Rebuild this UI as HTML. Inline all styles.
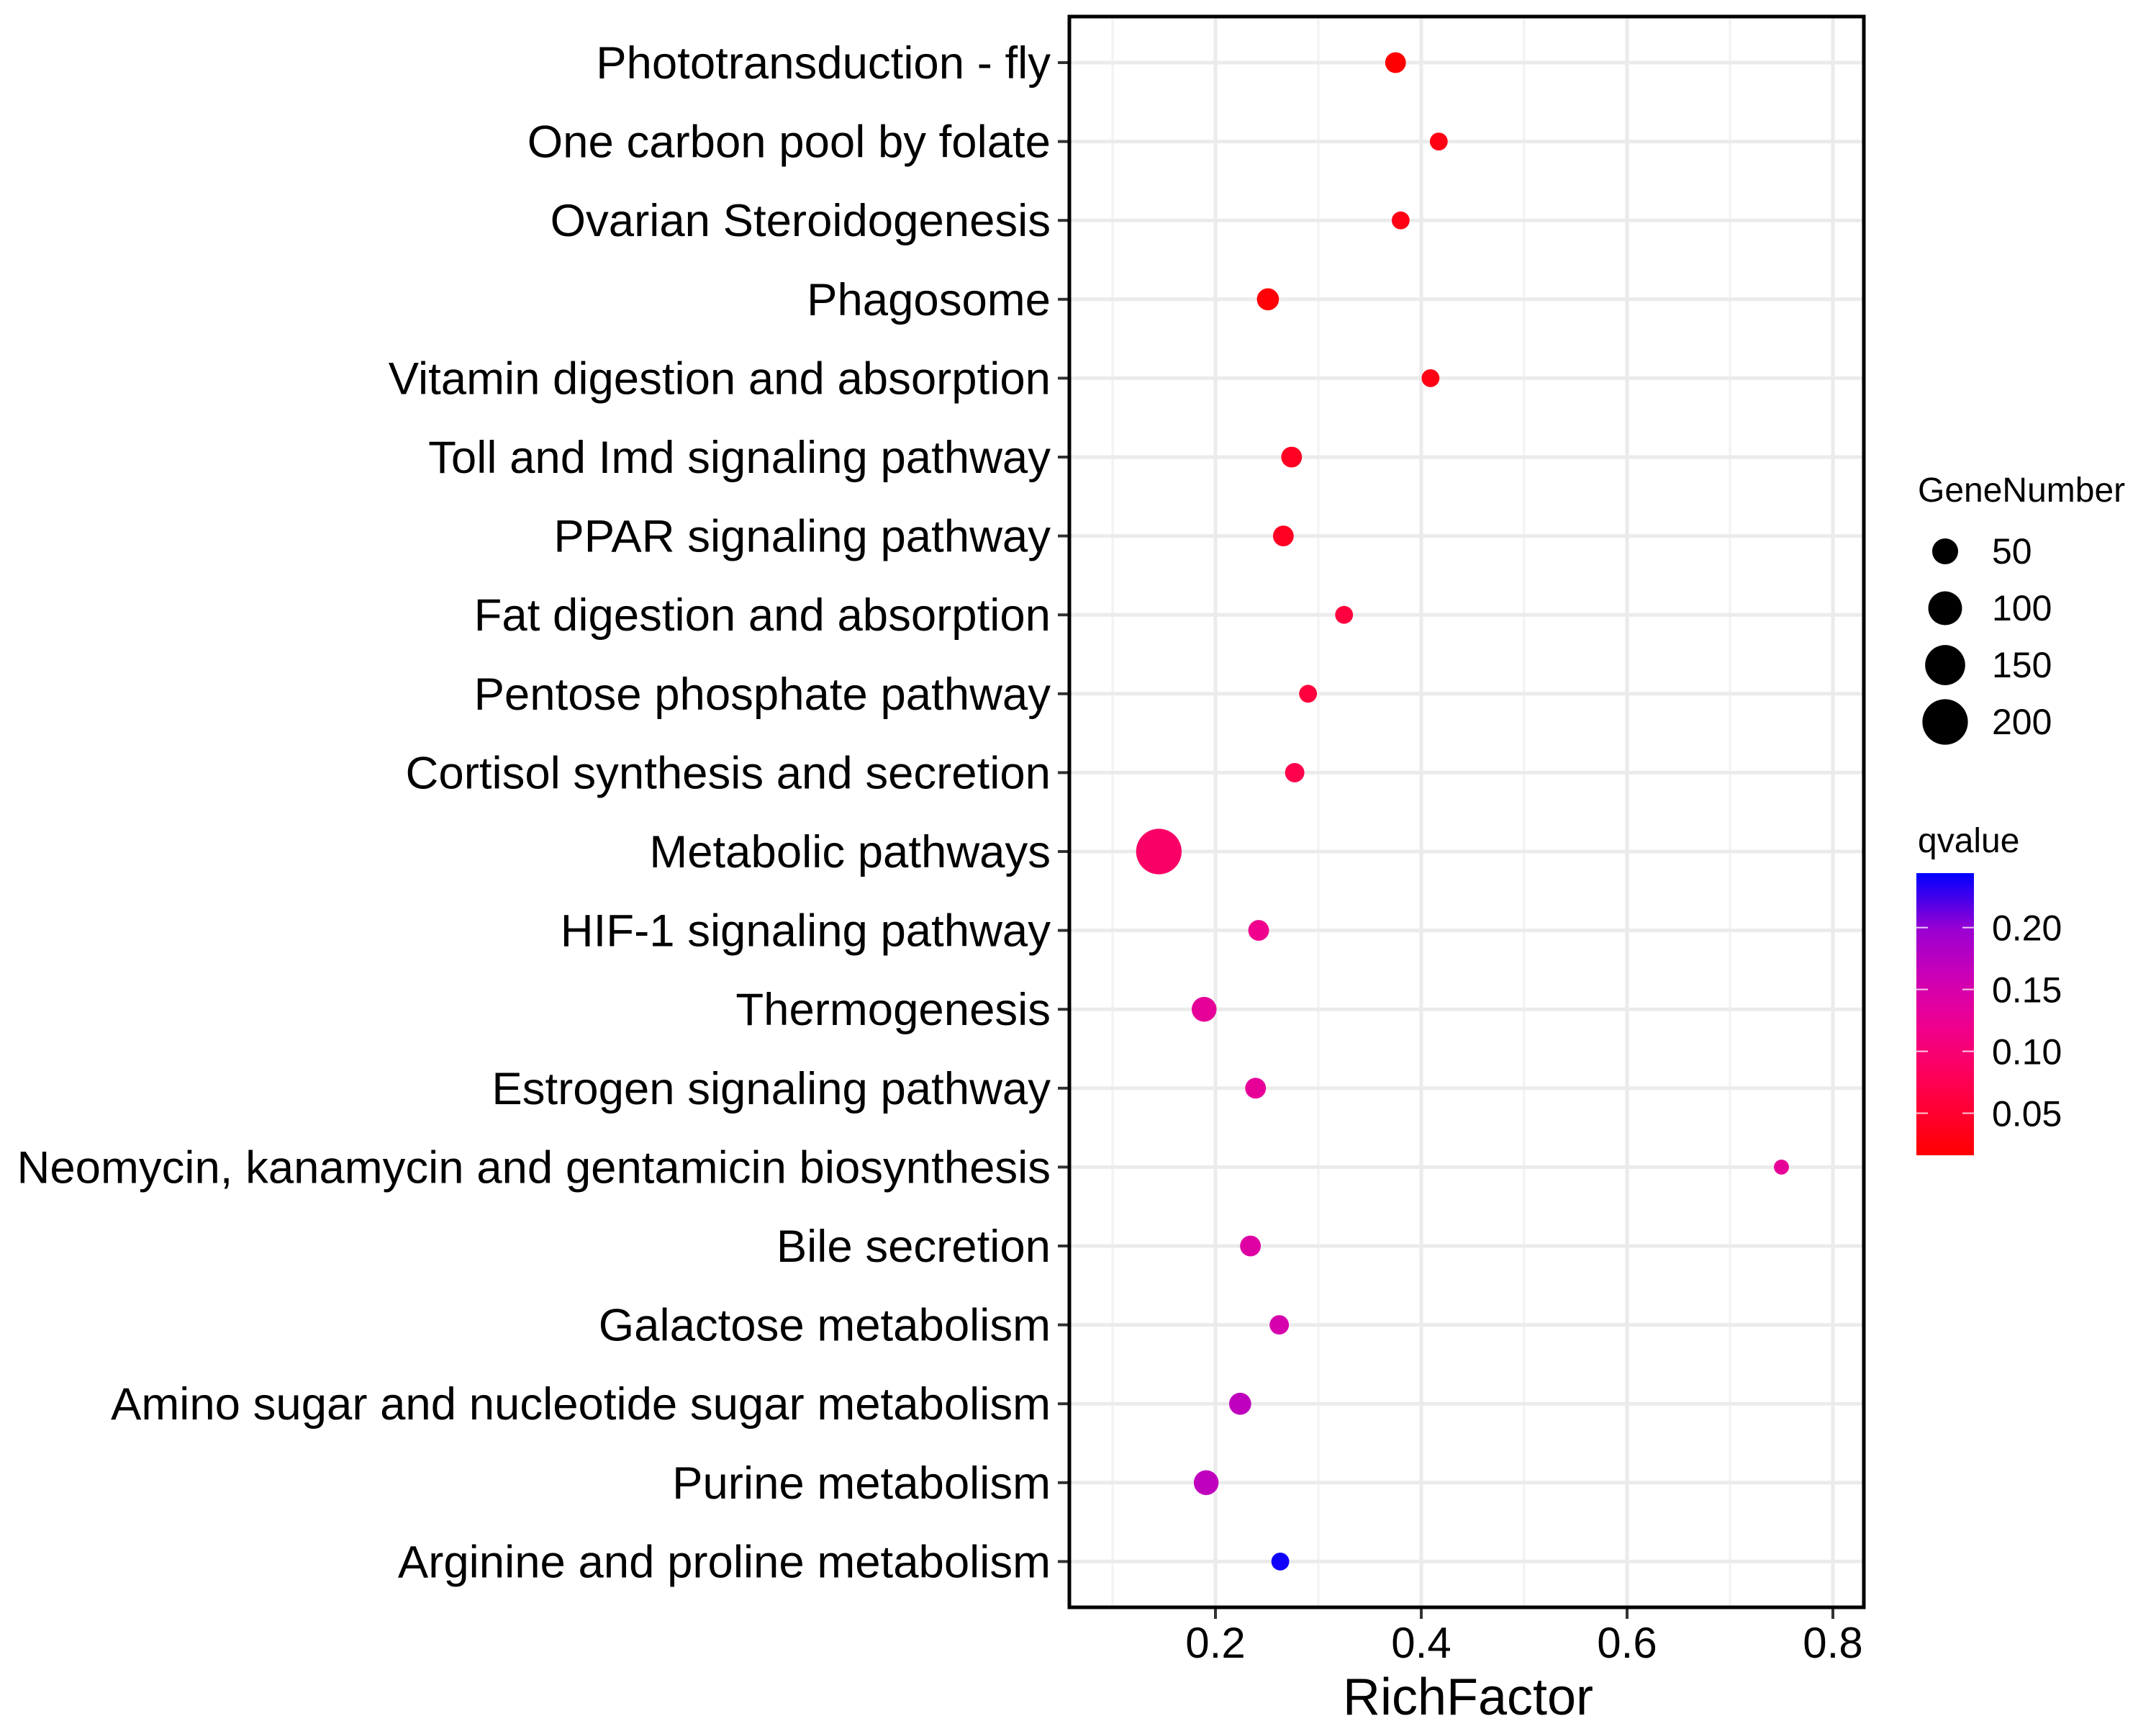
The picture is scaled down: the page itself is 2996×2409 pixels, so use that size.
<!DOCTYPE html>
<html><head><meta charset="utf-8"><title>KEGG enrichment</title>
<style>html,body{margin:0;padding:0;background:#fff}svg{display:block}text{font-family:"Liberation Sans",Arial,sans-serif;fill:#000}</style>
</head><body>
<svg id="chart" width="2996" height="2409" viewBox="0 0 2996 2409" xmlns="http://www.w3.org/2000/svg">
<defs>
<linearGradient id="qgrad" x1="0" y1="1" x2="0" y2="0"></linearGradient>
</defs>
<g id="grid"></g>
<g id="dots"></g>
<g id="yaxis"></g>
<g id="xaxis"></g>
<rect x="1486" y="23" width="1104" height="2210" fill="none" stroke="#000" stroke-width="5"/>
<text x="2040" y="2382" font-size="72" text-anchor="middle">RichFactor</text>
<g id="legend">
<text x="2665" y="697" font-size="48">GeneNumber</text>
<text x="2665" y="1184" font-size="48">qvalue</text>
<rect x="2663" y="1213" width="80" height="392" fill="url(#qgrad)"/>
</g>
</svg>
<script>
const categories = ["Phototransduction - fly","One carbon pool by folate","Ovarian Steroidogenesis","Phagosome","Vitamin digestion and absorption","Toll and Imd signaling pathway","PPAR signaling pathway","Fat digestion and absorption","Pentose phosphate pathway","Cortisol synthesis and secretion","Metabolic pathways","HIF-1 signaling pathway","Thermogenesis","Estrogen signaling pathway","Neomycin, kanamycin and gentamicin biosynthesis","Bile secretion","Galactose metabolism","Amino sugar and nucleotide sugar metabolism","Purine metabolism","Arginine and proline metabolism"];
const richFactor = [0.375,0.417,0.380,0.251,0.409,0.274,0.266,0.325,0.290,0.277,0.145,0.242,0.189,0.239,0.750,0.234,0.262,0.224,0.191,0.263];
const geneNumber = [24,12,12,30,12,24,24,12,12,18,200,24,44,24,2,24,18,30,44,12];
const qvalue = [0.012,0.03,0.03,0.02,0.03,0.04,0.04,0.06,0.06,0.07,0.09,0.12,0.13,0.13,0.13,0.14,0.15,0.17,0.17,0.24];
const xTicks = [0.2,0.4,0.6,0.8];
const xMinor = [0.1,0.3,0.5,0.7];
const sizeBreaks = [50,100,150,200];
const qTicks = [0.05,0.10,0.15,0.20];

const NS="http://www.w3.org/2000/svg";
const P={left:1486,right:2590,top:23,bottom:2233};
function xs(v){return 1689+(v-0.2)*1430;}
function ys(i){return 87+i*109.6;}
function rs(n){return Math.sqrt(100+4.5*n);}
const qMin=0.016,qMax=0.244;
function qy(q){return 1605-(q-qMin)/(qMax-qMin)*392;}
const cStops=[[0,255,0,0],[0.25,255,0,80],[0.45,240,0,140],[0.62,208,0,180],[0.8,154,0,210],[1,0,0,255]];
function qcol(q){let t=(q-qMin)/(qMax-qMin);t=Math.max(0,Math.min(1,t));
for(let k=0;k<cStops.length-1;k++){const a=cStops[k],b=cStops[k+1];if(t<=b[0]){const u=(t-a[0])/(b[0]-a[0]);
return "rgb("+Math.round(a[1]+(b[1]-a[1])*u)+","+Math.round(a[2]+(b[2]-a[2])*u)+","+Math.round(a[3]+(b[3]-a[3])*u)+")";}}
return "rgb(0,0,255)";}
function mk(tag,attrs,parent){const e=document.createElementNS(NS,tag);for(const k in attrs)e.setAttribute(k,attrs[k]);parent.appendChild(e);return e;}

const grid=document.getElementById('grid');
xMinor.forEach(v=>{const l=mk('line',{x1:xs(v),x2:xs(v),y1:P.top,y2:P.bottom,stroke:'#f2f2f2','stroke-width':3},grid);

});
xTicks.forEach(v=>{const l=mk('line',{x1:xs(v),x2:xs(v),y1:P.top,y2:P.bottom,stroke:'#ebebeb','stroke-width':5},grid);

});
categories.forEach((c,i)=>{const l=mk('line',{x1:P.left,x2:P.right,y1:ys(i),y2:ys(i),stroke:'#ebebeb','stroke-width':5},grid);

});

const dots=document.getElementById('dots');
categories.forEach((c,i)=>{const d=mk('circle',{cx:xs(richFactor[i]),cy:ys(i),r:rs(geneNumber[i]),fill:qcol(qvalue[i])},dots);

});

const ya=document.getElementById('yaxis');
categories.forEach((c,i)=>{const t=mk('text',{x:1460,y:ys(i)+22,'font-size':63.5,'text-anchor':'end'},ya);t.textContent=c;


const tk=mk('line',{x1:1470,x2:1486,y1:ys(i),y2:ys(i),stroke:'#333','stroke-width':4},ya);

});

const xa=document.getElementById('xaxis');
xTicks.forEach(v=>{const tk=mk('line',{x1:xs(v),x2:xs(v),y1:P.bottom,y2:P.bottom+16,stroke:'#333','stroke-width':4},xa);


const t=mk('text',{x:xs(v),y:2303,'font-size':60,'text-anchor':'middle'},xa);t.textContent=v.toFixed(1);

});

const lg=document.getElementById('legend');
sizeBreaks.forEach((n,i)=>{const cy=766+i*79;
const c=mk('circle',{cx:2703,cy:cy,r:rs(n),fill:'#000'},lg);


const t=mk('text',{x:2768,y:cy+17,'font-size':50},lg);t.textContent=n;

});
const grad=document.getElementById('qgrad');
for(let k=0;k<=20;k++){mk('stop',{offset:(k*5)+'%','stop-color':qcol(qMin+(qMax-qMin)*k/20)},grad);}
qTicks.forEach(q=>{const y=qy(q);
[[2663,2679],[2727,2743]].forEach(p=>{const l=mk('line',{x1:p[0],x2:p[1],y1:y,y2:y,stroke:'#fff','stroke-width':2,opacity:0.8},lg);

});
const t=mk('text',{x:2768,y:y+18,'font-size':50},lg);t.textContent=q.toFixed(2);

});
</script>
</body></html>
